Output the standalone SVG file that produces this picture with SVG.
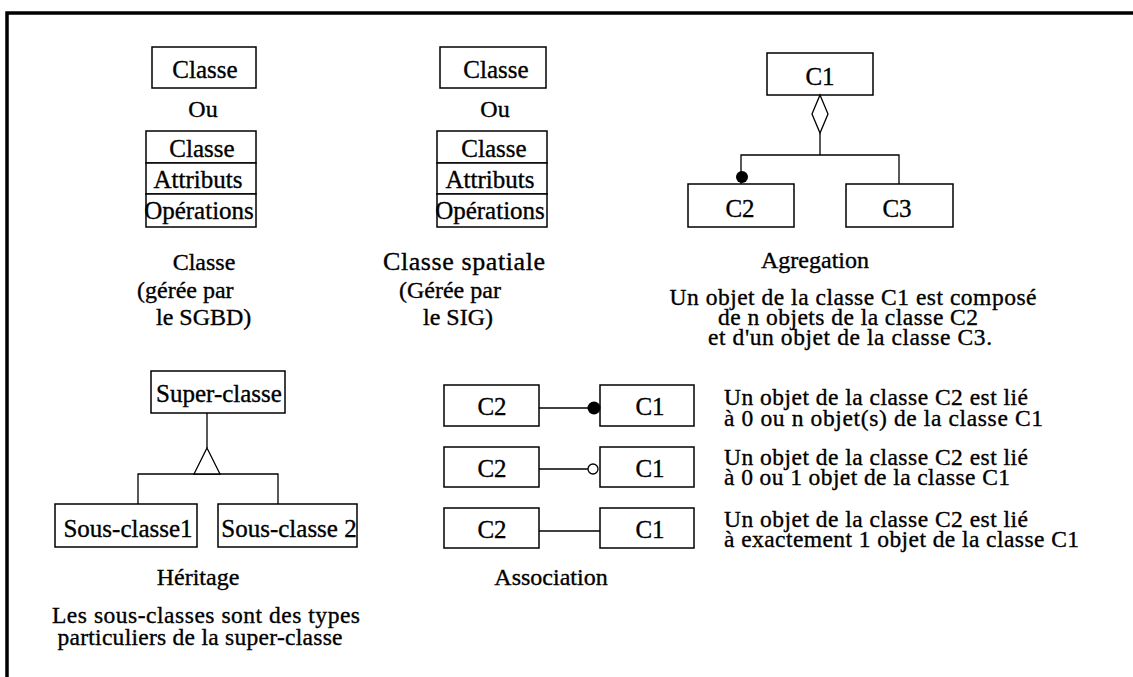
<svg xmlns="http://www.w3.org/2000/svg" width="1133" height="677" viewBox="0 0 1133 677">
  <style>
    text { font-family: "Liberation Serif", "Times New Roman", serif; fill: #000; stroke: #000; stroke-width: 0.35; }
    .lbl { font-size: 25px; text-anchor: middle; }
    .cap { font-size: 24px; text-anchor: middle; }
    .note { font-size: 23.5px; text-anchor: middle; }
    .desc { font-size: 24px; }
    .side { font-size: 23.5px; }
    .box { fill: #fff; stroke: #000; stroke-width: 1.5; }
    .wire { fill: none; stroke: #000; stroke-width: 1.3; }
    .open { fill: #fff; stroke: #000; stroke-width: 1.3; }
    .dot { fill: #000; stroke: none; }
    .frame { fill: none; stroke: #000; stroke-width: 3.5; }
  </style>

  <rect width="1133" height="677" fill="#fff"/>

  <!-- outer frame: top and left edges only -->
  <path class="frame" d="M7 677 V13 H1133"/>

  <!-- plain class -->
  <g id="classe">
    <rect class="box" x="152" y="47" width="104" height="41"/>
    <text class="lbl" x="205" y="78">Classe</text>
    <text class="cap" x="203" y="117">Ou</text>
    <rect class="box" x="146" y="131" width="110" height="32"/>
    <text class="lbl" x="202" y="157">Classe</text>
    <rect class="box" x="146" y="163" width="110" height="31"/>
    <text class="lbl" x="198" y="188">Attributs</text>
    <rect class="box" x="146" y="194" width="110" height="33"/>
    <text class="lbl" x="199" y="219">Opérations</text>
    <text class="cap" x="204" y="270">Classe</text>
    <text class="desc" x="137" y="298">(gérée par</text>
    <text class="desc" x="156" y="325">le SGBD)</text>
  </g>

  <!-- spatial class -->
  <g id="classe-spatiale">
    <rect class="box" x="440" y="47" width="106" height="41"/>
    <text class="lbl" x="496" y="78">Classe</text>
    <text class="cap" x="495" y="117">Ou</text>
    <rect class="box" x="437" y="131" width="110" height="32"/>
    <text class="lbl" x="494" y="157">Classe</text>
    <rect class="box" x="437" y="163" width="110" height="31"/>
    <text class="lbl" x="490" y="188">Attributs</text>
    <rect class="box" x="437" y="194" width="110" height="33"/>
    <text class="lbl" x="490" y="219">Opérations</text>
    <text class="desc" x="383" y="270" style="font-size:26px" textLength="162" lengthAdjust="spacing">Classe spatiale</text>
    <text class="desc" x="399" y="298">(Gérée par</text>
    <text class="desc" x="423" y="325">le SIG)</text>
  </g>

  <!-- aggregation -->
  <g id="agregation-c1">
    <rect class="box" x="767" y="53" width="106" height="42"/>
    <text class="lbl" x="820" y="85">C1</text>
  </g>
  <g id="agregation-c2">
    <rect class="box" x="688" y="184" width="106" height="43"/>
    <text class="lbl" x="740" y="217">C2</text>
  </g>
  <g id="agregation-c3">
    <rect class="box" x="846" y="184" width="107" height="43"/>
    <text class="lbl" x="897" y="217">C3</text>
  </g>
  <g id="agregation-texte">
    <text class="cap" x="815" y="268">Agregation</text>
    <text class="note" x="853" y="305" textLength="367" lengthAdjust="spacing">Un objet de la classe C1 est composé</text>
    <text class="note" x="848" y="325" textLength="260" lengthAdjust="spacing">de n objets de la classe C2</text>
    <text class="note" x="850" y="345" textLength="284" lengthAdjust="spacing">et d'un objet de la classe C3.</text>
  </g>

  <!-- inheritance -->
  <g id="super-classe">
    <rect class="box" x="151" y="371" width="134" height="42"/>
    <text class="lbl" x="219" y="402">Super-classe</text>
  </g>
  <g id="sous-classe-1">
    <rect class="box" x="55" y="504" width="142" height="43"/>
    <text class="lbl" x="128" y="537">Sous-classe1</text>
  </g>
  <g id="sous-classe-2">
    <rect class="box" x="218" y="504" width="139" height="43"/>
    <text class="lbl" x="289" y="537">Sous-classe 2</text>
  </g>
  <g id="heritage-texte">
    <text class="cap" x="198" y="585">Héritage</text>
    <text class="note" x="206" y="623" textLength="308" lengthAdjust="spacing">Les sous-classes sont des types</text>
    <text class="note" x="200" y="645" textLength="285" lengthAdjust="spacing">particuliers de la super-classe</text>
  </g>

  <!-- association rows -->
  <g id="assoc-1-c2">
    <rect class="box" x="444" y="385" width="95" height="41"/>
    <text class="lbl" x="492" y="415">C2</text>
  </g>
  <g id="assoc-1-c1">
    <rect class="box" x="600" y="385" width="94" height="41"/>
    <text class="lbl" x="650" y="415">C1</text>
  </g>
  <g id="assoc-2-c2">
    <rect class="box" x="444" y="447" width="95" height="40"/>
    <text class="lbl" x="492" y="477">C2</text>
  </g>
  <g id="assoc-2-c1">
    <rect class="box" x="600" y="447" width="94" height="40"/>
    <text class="lbl" x="650" y="477">C1</text>
  </g>
  <g id="assoc-3-c2">
    <rect class="box" x="444" y="508" width="95" height="40"/>
    <text class="lbl" x="492" y="538">C2</text>
  </g>
  <g id="assoc-3-c1">
    <rect class="box" x="600" y="508" width="94" height="40"/>
    <text class="lbl" x="650" y="538">C1</text>
  </g>
  <g id="association-texte">
    <text class="cap" x="551" y="585">Association</text>
    <text class="side" x="724" y="405" textLength="304" lengthAdjust="spacing">Un objet de la classe C2 est lié</text>
    <text class="side" x="724" y="426" textLength="319" lengthAdjust="spacing">à 0 ou n objet(s) de la classe C1</text>
    <text class="side" x="724" y="465" textLength="304" lengthAdjust="spacing">Un objet de la classe C2 est lié</text>
    <text class="side" x="724" y="485" textLength="286" lengthAdjust="spacing">à 0 ou 1 objet de la classe C1</text>
    <text class="side" x="724" y="527" textLength="304" lengthAdjust="spacing">Un objet de la classe C2 est lié</text>
    <text class="side" x="724" y="547" textLength="355" lengthAdjust="spacing">à exactement 1 objet de la classe C1</text>
  </g>

  <!-- connectors -->
  <g id="connecteurs">
    <!-- aggregation: hollow diamond at C1, filled dot at C2 -->
    <polygon class="open" points="820,95 828,114 820,133 812,114"/>
    <path class="wire" d="M820 133 V155 M741 184 V155 H899 V184"/>
    <circle class="dot" cx="742" cy="177" r="6"/>

    <!-- inheritance: hollow triangle under the super-class -->
    <path class="wire" d="M207 413 V448 M138 504 V474 H278 V504"/>
    <polygon class="open" points="207,448 220,474 194,474"/>

    <!-- associations -->
    <path class="wire" d="M539 408 H600"/>
    <circle class="dot" cx="594" cy="408" r="6.5"/>
    <path class="wire" d="M539 469 H588"/>
    <circle class="open" cx="593" cy="469" r="5"/>
    <path class="wire" d="M539 531 H600"/>
  </g>
</svg>
